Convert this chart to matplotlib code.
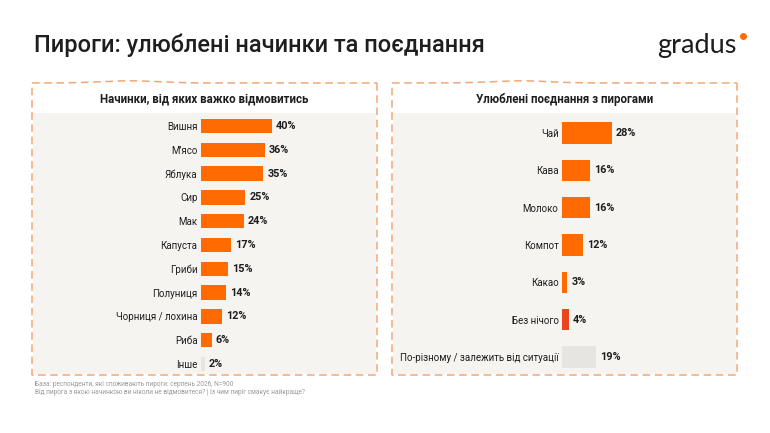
import numpy as np
import matplotlib.pyplot as plt
from matplotlib.patches import Rectangle

plt.rcParams['font.family'] = ['Roboto', 'DejaVu Sans']

# --- дані ---
fillings = ["Вишня", "М’ясо", "Яблука", "Сир", "Мак", "Капуста", "Гриби",
            "Полуниця", "Чорниця / лохина", "Риба", "Інше"]
fillings_pct = [40, 36, 35, 25, 24, 17, 15, 14, 12, 6, 2]

pairings = ["Чай", "Кава", "Молоко", "Компот", "Какао", "Без нічого",
            "По-різному / залежить від ситуації"]
pairings_pct = [28, 16, 16, 12, 3, 4, 19]

ORANGE = "#FF6B00"
RED = "#E8461E"
LIGHT = "#E6E5E2"
PANEL_BG = "#F5F4F0"
DASH = "#F2A775"
TXT = "#1E1E1E"

W, H = 770, 433
fig = plt.figure(figsize=(W / 100, H / 100), dpi=100)
fig.patch.set_facecolor("white")

# фонова вісь у пікселях
bg = fig.add_axes([0, 0, 1, 1])
bg.set_xlim(0, W)
bg.set_ylim(H, 0)
bg.axis("off")

bg.text(34, 45, "Пироги: улюблені начинки та поєднання", fontsize=17,
        fontweight="medium", color=TXT, va="center", ha="left")
bg.text(737, 46, "gradus", fontsize=19.5, color=TXT, va="center", ha="right",
        family=["Lato", "DejaVu Sans"])
bg.plot([743], [36], "o", color=ORANGE, ms=4)


def panel(x0, x1, title, bump):
    y0, y1 = 83, 375
    bg.add_patch(Rectangle((x0 + 1, 113), x1 - x0 - 2, y1 - 113 - 1,
                           facecolor=PANEL_BG, edgecolor="none"))
    # верхня лінія з легкою хвилею
    xs = np.linspace(x0, x1, 200)
    ys = y0 - 2.2 * np.exp(-((xs - bump) / 40) ** 2)
    bg.plot(xs, ys, color=DASH, lw=1.1, ls=(0, (5, 3)))
    bg.plot([x1, x1, x0, x0], [y0, y1, y1, y0], color=DASH, lw=1.1,
            ls=(0, (5, 3)))
    bg.text((x0 + x1) / 2, 99, title, fontsize=8.3, fontweight="bold",
            color=TXT, ha="center", va="center")


panel(32, 377, "Начинки, від яких важко відмовитись", 130)
panel(392, 737, "Улюблені поєднання з пирогами", 520)

bg.text(35, 384, "База: респонденти, які споживають пироги: серпень 2026, N=900",
        fontsize=4.7, color="#9A9A9A", va="center")
bg.text(35, 392, "Від пирога з якою начинкою ви ніколи не відмовитеся? | Із чим пиріг смакує найкраще?",
        fontsize=4.7, color="#9A9A9A", va="center")


def bars(x_px, top, bottom, labels, vals, colors, height):
    ax = fig.add_axes([x_px / W, 1 - bottom / H, 142 / W, (bottom - top) / H])
    ax.set_facecolor("none")
    n = len(labels)
    y = np.arange(n)
    ax.barh(y, vals, height=height, color=colors)
    ax.set_xlim(0, 80)
    ax.set_ylim(n - 0.5, -0.5)
    ax.set_yticks(y, labels)
    ax.tick_params(axis="y", length=0, pad=2.5, labelsize=7.0, labelcolor=TXT)
    ax.set_xticks([])
    for s in ax.spines.values():
        s.set_visible(False)
    for yi, v in zip(y, vals):
        ax.text(v + 2.3, yi, f"{v}%", fontsize=7.8, fontweight="bold",
                color=TXT, va="center", ha="left")
    return ax


left_colors = [ORANGE] * 10 + [LIGHT]
bars(201, 114, 376, fillings, fillings_pct, left_colors, 0.6)

right_colors = [ORANGE] * 5 + [RED, LIGHT]
bars(562, 114.3, 375.7, pairings, pairings_pct, right_colors, 0.57)

fig.savefig("out.png", dpi=100)
